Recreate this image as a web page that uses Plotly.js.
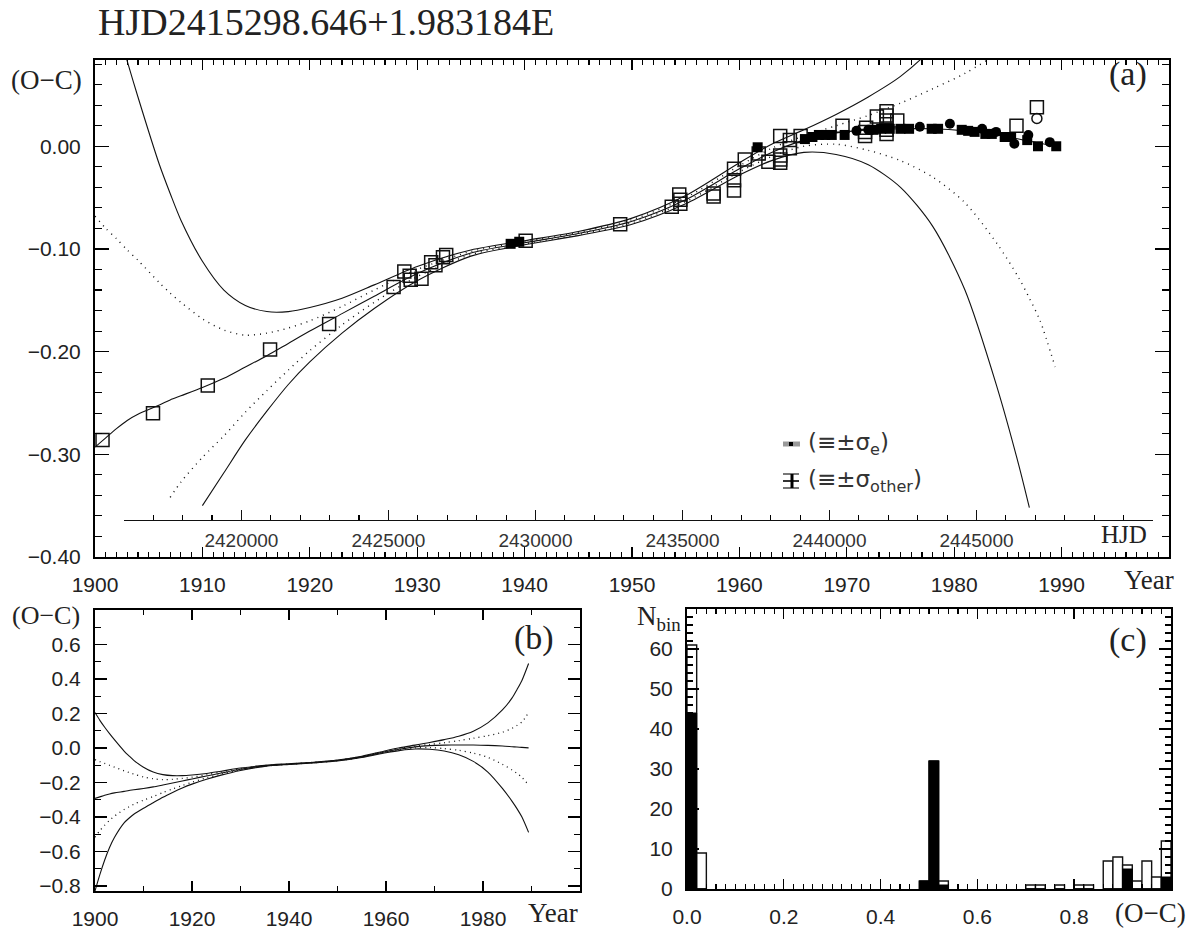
<!DOCTYPE html>
<html><head><meta charset="utf-8">
<script src="https://cdn.plot.ly/plotly-3.0.1.min.js"></script>
<style>html,body{margin:0;padding:0;background:#fff}#chart{width:1192px;height:930px}</style>
</head><body><div id="chart"></div>
<script>
// ---------------- data ----------------
// fitted curves: year grid and five curves
const curveYear = [1900,1901,1902,1903,1904,1906,1907,1908,1910,1912,1914,1916,1918,1920,1923,1926,1930,1935,1940,1945,1950,1955,1960,1963,1966,1969,1972,1975,1978,1981,1984,1986,1987,1988,1989.4];
const fitMid    = [-0.293,-0.284,-0.275,-0.267,-0.261,-0.252,-0.247,-0.243,-0.235,-0.226,-0.215,-0.204,-0.192,-0.180,-0.163,-0.146,-0.124,-0.104,-0.094,-0.085,-0.073,-0.052,-0.022,-0.006,0.006,0.013,0.016,0.017,0.017,0.015,0.011,0.007,0.005,0.003,0.000];
const fitUp2    = [0.205,0.160,0.120,0.083,0.048,-0.018,-0.046,-0.072,-0.112,-0.140,-0.155,-0.161,-0.161,-0.157,-0.148,-0.135,-0.117,-0.101,-0.092,-0.083,-0.070,-0.048,-0.016,0.002,0.016,0.031,0.048,0.068,0.097,0.145,0.220,0.290,0.338,0.390,0.490];
const fitUp1    = [-0.068,-0.080,-0.090,-0.101,-0.111,-0.133,-0.143,-0.152,-0.168,-0.179,-0.184,-0.182,-0.177,-0.170,-0.156,-0.140,-0.120,-0.1025,-0.093,-0.084,-0.0715,-0.050,-0.019,-0.002,0.010,0.020,0.030,0.042,0.056,0.071,0.091,0.114,0.130,0.150,0.205];
const fitLow1   = [-0.518,-0.480,-0.448,-0.420,-0.396,-0.357,-0.342,-0.327,-0.303,-0.282,-0.259,-0.238,-0.218,-0.199,-0.174,-0.152,-0.127,-0.1055,-0.095,-0.086,-0.0745,-0.054,-0.025,-0.010,0.000,0.002,-0.004,-0.014,-0.030,-0.055,-0.095,-0.128,-0.148,-0.170,-0.215];
const fitLow2   = [-0.830,-0.735,-0.650,-0.578,-0.520,-0.435,-0.408,-0.385,-0.350,-0.318,-0.286,-0.258,-0.232,-0.210,-0.182,-0.158,-0.131,-0.107,-0.096,-0.087,-0.076,-0.056,-0.028,-0.014,-0.006,-0.008,-0.018,-0.040,-0.078,-0.140,-0.235,-0.310,-0.352,-0.400,-0.490];

// observed minima (O-C), panel (a)
const openSqYear = [1900.7,1905.4,1910.5,1916.3,1921.8,1927.8,1928.8,1929.3,1929.4,1930.4,1931.3,1931.7,1932.4,1932.7,1940.1,1948.9,1953.7,1954.4,1954.5,1954.5,1957.6,1957.6,1959.5,1959.5,1959.5,1960.5,1961.8,1962.7,1963.8,1963.8,1963.8,1963.8,1964.7,1964.7,1965.7,1969.6,1971.7,1971.7,1971.8,1972.8,1973.7,1973.7,1973.7,1973.7,1973.7,1974.7,1985.8,1987.7];
const openSqOC   = [-0.286,-0.260,-0.233,-0.198,-0.173,-0.137,-0.122,-0.126,-0.130,-0.129,-0.113,-0.116,-0.108,-0.106,-0.092,-0.076,-0.059,-0.047,-0.052,-0.056,-0.046,-0.049,-0.022,-0.033,-0.043,-0.013,-0.007,-0.015,0.010,-0.009,-0.013,-0.016,0.006,-0.002,0.010,0.020,0.014,0.010,0.018,0.029,0.034,0.030,0.025,0.016,0.012,0.025,0.020,0.038];
const fillSqYear = [1938.7,1939.5,1961.7,1966.1,1966.8,1967.4,1968.0,1968.6,1969.8,1972.5,1973.2,1974.0,1975.0,1975.8,1977.9,1978.5,1980.7,1981.3,1981.9,1982.9,1983.5,1984.7,1985.3,1986.8,1987.8,1989.5];
const fillSqOC   = [-0.095,-0.093,-0.001,0.007,0.009,0.011,0.011,0.011,0.011,0.016,0.017,0.017,0.017,0.017,0.017,0.017,0.016,0.015,0.014,0.012,0.012,0.009,0.009,0.006,0.000,0.000];
const fillCiYear = [1970.9,1972.0,1976.8,1979.6,1982.6,1983.9,1985.6,1986.9,1988.9];
const fillCiOC   = [0.015,0.016,0.019,0.022,0.017,0.014,0.0025,0.011,0.004];
const openCiYear = [1987.7];
const openCiOC   = [0.027];

// histogram, panel (c)
const binCenter   = [0.01,0.03,0.49,0.51,0.53,0.71,0.73,0.77,0.81,0.83,0.87,0.89,0.91,0.93,0.95,0.97,0.99];
const countAll    = [61,9,2,32,2,1,1,1,1,1,7,8,6,2,7,3,12];
const countSubset = [44,0,2,32,1,0,0,0,0,0,0,0,5,0,0,0,3];
const binWidth = 0.02;

// tick labels
const yearTicksA = [1900,1910,1920,1930,1940,1950,1960,1970,1980,1990];
const yearTicksB = [1900,1920,1940,1960,1980];
const ocTicksA = [-0.4,-0.3,-0.2,-0.1,0];
const ocTicksB = [-0.8,-0.6,-0.4,-0.2,0,0.2,0.4,0.6];
const hjdTicks = [2420000,2425000,2430000,2435000,2440000,2445000];
const histXTicks = [0,0.2,0.4,0.6,0.8];
const histYTicks = [0,10,20,30,40,50,60];

// ---------------- layout helpers ----------------
const W = 1192, H = 930;
const px = v => v / W;
const py = v => 1 - v / H;
const SANS = '"Liberation Sans", Arial, sans-serif';
const SERIF = '"Liberation Serif", "Times New Roman", serif';
const TF = {family: SANS, size: 21, color: '#222'};

const A_X0 = 95, A_X1 = 1169;        // panel (a) horizontal pixel extent
const YEAR_RANGE = [1900, 2000];
const HJD_RANGE = [2416000, 2451000];
const jdToYear = jd => 1900 + (jd - 2415020.5) / 365.25;
const yearToPx = yr => A_X0 + (yr - YEAR_RANGE[0]) / (YEAR_RANGE[1] - YEAR_RANGE[0]) * (A_X1 - A_X0);

function frameAxis(extra) {
  return Object.assign({
    showline: true, linecolor: '#000', linewidth: 2, mirror: 'allticks',
    ticks: 'inside', tickcolor: '#000', tickwidth: 1.4,
    showgrid: false, zeroline: false, tickfont: TF, fixedrange: true
  }, extra);
}
function minor(dtick, tick0, len) {
  return {tickmode: 'linear', dtick: dtick, tick0: tick0, ticklen: len, ticks: 'inside', tickcolor: '#000', tickwidth: 1.1, showgrid: false};
}
function clipBelow(xs, ys, lo) {
  const X = [], Y = [];
  xs.forEach((x, i) => { if (ys[i] >= lo) { X.push(x); Y.push(ys[i]); } });
  return {X, Y};
}

// ---------------- traces ----------------
const traces = [];
const curveSet = [
  {y: fitUp2, dash: 'solid'}, {y: fitUp1, dash: '1px,5px'}, {y: fitMid, dash: 'solid'},
  {y: fitLow1, dash: '1px,5px'}, {y: fitLow2, dash: 'solid'}
];
curveSet.forEach(c => {
  const k = clipBelow(curveYear, c.y, -0.353);
  traces.push({type: 'scatter', mode: 'lines', x: k.X, y: k.Y, xaxis: 'x', yaxis: 'y',
    line: {color: '#111', width: c.dash === 'solid' ? 1.1 : 1.4, dash: c.dash, shape: 'spline', smoothing: 0.8},
    hoverinfo: 'skip', showlegend: false});
  traces.push({type: 'scatter', mode: 'lines', x: curveYear, y: c.y, xaxis: 'x2', yaxis: 'y2',
    line: {color: '#111', width: c.dash === 'solid' ? 1.1 : 1.3, dash: c.dash === 'solid' ? 'solid' : '1px,4px', shape: 'spline', smoothing: 0.8},
    hoverinfo: 'skip', showlegend: false});
});
traces.push({type: 'scatter', mode: 'markers', x: openSqYear, y: openSqOC, xaxis: 'x', yaxis: 'y',
  marker: {symbol: 'square-open', size: 13, color: '#111', line: {width: 1.5, color: '#111'}}, showlegend: false});
traces.push({type: 'scatter', mode: 'markers', x: fillSqYear, y: fillSqOC, xaxis: 'x', yaxis: 'y',
  marker: {symbol: 'square', size: 10, color: '#000', line: {width: 0}}, showlegend: false});
traces.push({type: 'scatter', mode: 'markers', x: fillCiYear, y: fillCiOC, xaxis: 'x', yaxis: 'y',
  marker: {symbol: 'circle', size: 10, color: '#000', line: {width: 0}}, showlegend: false});
traces.push({type: 'scatter', mode: 'markers', x: openCiYear, y: openCiOC, xaxis: 'x', yaxis: 'y',
  marker: {symbol: 'circle-open', size: 10, color: '#111', line: {width: 1.5, color: '#111'}}, showlegend: false});
// HJD axis carrier (no marks), on its own hidden y axis
traces.push({type: 'scatter', mode: 'markers', x: [], y: [], xaxis: 'x4', yaxis: 'y4', showlegend: false, hoverinfo: 'skip'});
// histogram
traces.push({type: 'bar', x: binCenter, y: countAll, width: binWidth, xaxis: 'x3', yaxis: 'y3',
  marker: {color: '#fff', line: {color: '#111', width: 1.4}}, showlegend: false, hoverinfo: 'skip'});
traces.push({type: 'bar', x: binCenter, y: countSubset, width: binWidth, xaxis: 'x3', yaxis: 'y3',
  marker: {color: '#000', line: {color: '#000', width: 1}}, showlegend: false, hoverinfo: 'skip'});

// ---------------- layout ----------------
const hjdDom = [px(yearToPx(jdToYear(HJD_RANGE[0]))), px(yearToPx(jdToYear(HJD_RANGE[1])))];

const annFont = (size) => ({family: SERIF, size: size, color: '#222'});
const LEGF = {family: '"DejaVu Sans", sans-serif', size: 23, color: '#333'};
const annotations = [
  {text: 'HJD2415298.646+1.983184E', xref: 'paper', yref: 'paper', x: px(96), y: py(22), xanchor: 'left', yanchor: 'middle', showarrow: false, font: annFont(38)},
  {text: '(O\u2212C)', xref: 'paper', yref: 'paper', x: px(46), y: py(80), xanchor: 'center', yanchor: 'middle', showarrow: false, font: annFont(27)},
  {text: '(a)', xref: 'paper', yref: 'paper', x: px(1128), y: py(74), xanchor: 'center', yanchor: 'middle', showarrow: false, font: annFont(34)},
  {text: 'HJD', xref: 'x4', yref: 'paper', x: 2450000, y: py(534), xanchor: 'center', yanchor: 'middle', showarrow: false, font: annFont(25)},
  {text: 'Year', xref: 'paper', yref: 'paper', x: px(1149), y: py(580), xanchor: 'center', yanchor: 'middle', showarrow: false, font: annFont(27)},
  {text: '(\u2261\u00b1\u03c3<sub>e</sub>)', xref: 'paper', yref: 'paper', x: px(806), y: py(444), xanchor: 'left', yanchor: 'middle', showarrow: false, font: LEGF},
  {text: '(\u2261\u00b1\u03c3<sub>other</sub>)', xref: 'paper', yref: 'paper', x: px(806), y: py(481), xanchor: 'left', yanchor: 'middle', showarrow: false, font: LEGF},
  {text: '(O\u2212C)', xref: 'paper', yref: 'paper', x: px(46), y: py(615), xanchor: 'center', yanchor: 'middle', showarrow: false, font: annFont(26)},
  {text: '(b)', xref: 'paper', yref: 'paper', x: px(534), y: py(638), xanchor: 'center', yanchor: 'middle', showarrow: false, font: annFont(34)},
  {text: 'Year', xref: 'paper', yref: 'paper', x: px(553), y: py(913), xanchor: 'center', yanchor: 'middle', showarrow: false, font: annFont(27)},
  {text: 'N<sub>bin</sub>', xref: 'paper', yref: 'paper', x: px(683), y: py(618), xanchor: 'right', yanchor: 'middle', showarrow: false, font: annFont(27)},
  {text: '(c)', xref: 'paper', yref: 'paper', x: px(1128), y: py(640), xanchor: 'center', yanchor: 'middle', showarrow: false, font: annFont(34)},
  {text: '(O\u2212C)', xref: 'paper', yref: 'paper', x: px(1150), y: py(913), xanchor: 'center', yanchor: 'middle', showarrow: false, font: annFont(27)}
];

const P = (x0, y0, x1, y1) => ({x0: px(x0), x1: px(x1), y0: py(y0), y1: py(y1)});
const shapes = [
  Object.assign({type: 'rect', xref: 'paper', yref: 'paper', fillcolor: '#999', line: {width: 0}}, P(783, 441.5, 800, 446.5)),
  Object.assign({type: 'rect', xref: 'paper', yref: 'paper', fillcolor: '#000', line: {width: 0}}, P(789, 442, 793, 446)),
  Object.assign({type: 'line', xref: 'paper', yref: 'paper', line: {color: '#555', width: 1.6}}, P(783, 474, 799, 474)),
  Object.assign({type: 'line', xref: 'paper', yref: 'paper', line: {color: '#333', width: 2}}, P(783, 481, 799, 481)),
  Object.assign({type: 'line', xref: 'paper', yref: 'paper', line: {color: '#555', width: 1.6}}, P(783, 488, 799, 488)),
  Object.assign({type: 'line', xref: 'paper', yref: 'paper', line: {color: '#000', width: 3}}, P(792, 474, 792, 488))
];

const layout = {
  width: W, height: H, autosize: false,
  margin: {l: 0, r: 0, t: 0, b: 0, pad: 0},
  paper_bgcolor: '#fff', plot_bgcolor: 'rgba(0,0,0,0)',
  showlegend: false, barmode: 'overlay', bargap: 0,
  font: {family: SANS, color: '#222'},
  xaxis: frameAxis({domain: [px(A_X0), px(A_X1)], range: YEAR_RANGE, anchor: 'y',
    tickmode: 'array', tickvals: yearTicksA, ticktext: yearTicksA.map(String), ticklen: 10,
    minor: minor(1, 1900, 5), ticklabelstandoff: 8}),
  yaxis: frameAxis({domain: [py(557), py(60)], range: [-0.40, 0.084], anchor: 'x',
    tickmode: 'array', tickvals: ocTicksA, tickformat: '.2f', ticklen: 14,
    minor: minor(0.02, 0, 7), ticklabelstandoff: 8}),
  xaxis4: {anchor: 'free', position: py(520), domain: hjdDom, range: HJD_RANGE, side: 'bottom',
    showline: true, linecolor: '#111', linewidth: 1.3, ticks: 'inside', ticklen: 10, tickwidth: 1.1, tickcolor: '#111',
    tickmode: 'array', tickvals: hjdTicks, tickformat: 'd', showgrid: false, zeroline: false, fixedrange: true,
    minor: minor(1000, 2416000, 5), tickfont: {family: SANS, size: 19, color: '#333'}, ticklabelstandoff: 3},
  yaxis4: {anchor: 'x4', domain: [py(557), py(60)], range: [0, 1], visible: false, showline: false, showgrid: false, zeroline: false, ticks: '', showticklabels: false, fixedrange: true},
  xaxis2: frameAxis({domain: [px(95), px(580)], range: YEAR_RANGE, anchor: 'y2',
    tickmode: 'array', tickvals: yearTicksB, ticktext: yearTicksB.map(String), ticklen: 10,
    minor: minor(10, 1900, 5), ticklabelstandoff: 8}),
  yaxis2: frameAxis({domain: [py(891), py(610)], range: [-0.83, 0.80], anchor: 'x2',
    tickmode: 'array', tickvals: ocTicksB, tickformat: '.1f', ticklen: 12,
    minor: minor(0.1, 0, 6), ticklabelstandoff: 8}),
  xaxis3: frameAxis({domain: [px(687), px(1171)], range: [0, 1], anchor: 'y3',
    tickmode: 'array', tickvals: histXTicks, tickformat: '.1f', ticklen: 10,
    minor: minor(0.02, 0, 5), ticklabelstandoff: 8}),
  yaxis3: frameAxis({domain: [py(889), py(609)], range: [0, 70], anchor: 'x3',
    tickmode: 'array', tickvals: histYTicks, ticklen: 12,
    minor: minor(2, 0, 6), ticklabelstandoff: 8}),
  annotations: annotations,
  shapes: shapes
};

Plotly.newPlot('chart', traces, layout, {staticPlot: true, displayModeBar: false});
</script></body></html>
